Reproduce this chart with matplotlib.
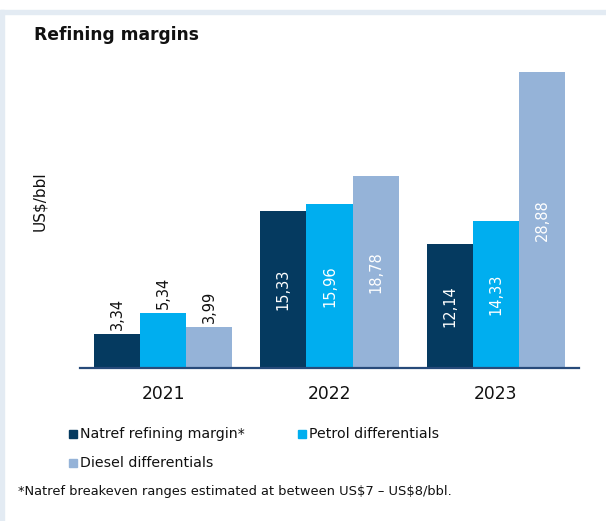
import matplotlib
matplotlib.use("Agg")
import matplotlib.pyplot as plt
from matplotlib.patches import Rectangle
import numpy as np

years = ["2021", "2022", "2023"]
series_names = ["Natref refining margin*", "Petrol differentials", "Diesel differentials"]
natref = [3.34, 15.33, 12.14]
petrol = [5.34, 15.96, 14.33]
diesel = [3.99, 18.78, 28.88]
colors = ["#053A60", "#00AEEF", "#95B3D8"]
title = "Refining margins"
ylabel = "US\\$/bbl"
footnote = "*Natref breakeven ranges estimated at between US\\$7 \u2013 US\\$8/bbl."

plt.rcParams['font.family'] = ['DejaVu Sans']

W, H = 606, 521
fig = plt.figure(figsize=(W / 100, H / 100), dpi=100)
fig.patch.set_facecolor("white")

# light frame (top + left)
fig.patches.append(Rectangle((0, 1 - 14 / H), 1, 4 / H, transform=fig.transFigure,
                             color="#E3EBF3", zorder=0))
fig.patches.append(Rectangle((0, 0), 4 / W, 1 - 10 / H, transform=fig.transFigure,
                             color="#E3EBF3", zorder=0))

ax = fig.add_axes([80 / W, (H - 368) / H, 499 / W, 308 / H])
ax.set_facecolor("none")
x = np.arange(len(years))
bw = 0.277
all_series = [natref, petrol, diesel]
for i, vals in enumerate(all_series):
    xs = x + (i - 1) * bw
    ax.bar(xs, vals, width=bw, color=colors[i], edgecolor="none", zorder=2)
    for xi, v in zip(xs, vals):
        lab = f"{v:.2f}".replace(".", ",")
        if v < 8:
            ax.annotate(lab, (xi, v), xytext=(0, 3), textcoords="offset points",
                        rotation=90, ha="center", va="bottom", fontsize=10.5, color="#111111")
        else:
            ax.text(xi, v / 2, lab, rotation=90, ha="center", va="center",
                    fontsize=10.5, color="white")

ax.set_xlim(-0.5, 2.5)
ax.set_ylim(0, 308 / 10.25)
ax.set_xticks(x)
ax.set_xticklabels(years, fontsize=12.3, color="#111111")
ax.tick_params(axis="x", length=0, pad=12)
ax.set_yticks([])
for s in ["top", "right", "left"]:
    ax.spines[s].set_visible(False)
ax.spines["bottom"].set_color("#274A7A")
ax.spines["bottom"].set_linewidth(1.6)
ax.spines["bottom"].set_zorder(3)

fig.text(34 / W, 1 - 35 / H, title, fontsize=12.3, fontweight="bold", va="center", ha="left",
         color="#111111")
fig.text(40 / W, 1 - 201 / H, ylabel, rotation=90, fontsize=11, va="center", ha="center",
         color="#111111")

# legend
leg_items = [(69, 434, 0), (298, 434, 1), (69, 463, 2)]
for lx, ly, idx in leg_items:
    fig.patches.append(Rectangle((lx / W, 1 - (ly + 4) / H), 8 / W, 8 / H,
                                 transform=fig.transFigure, color=colors[idx]))
    fig.text((lx + 11) / W, 1 - ly / H, series_names[idx], fontsize=10.2, va="center",
             ha="left", color="#111111")

fig.text(18 / W, 1 - 492 / H, footnote, fontsize=9.35, va="center", ha="left", color="#111111")

fig.savefig("out.png", dpi=100)
